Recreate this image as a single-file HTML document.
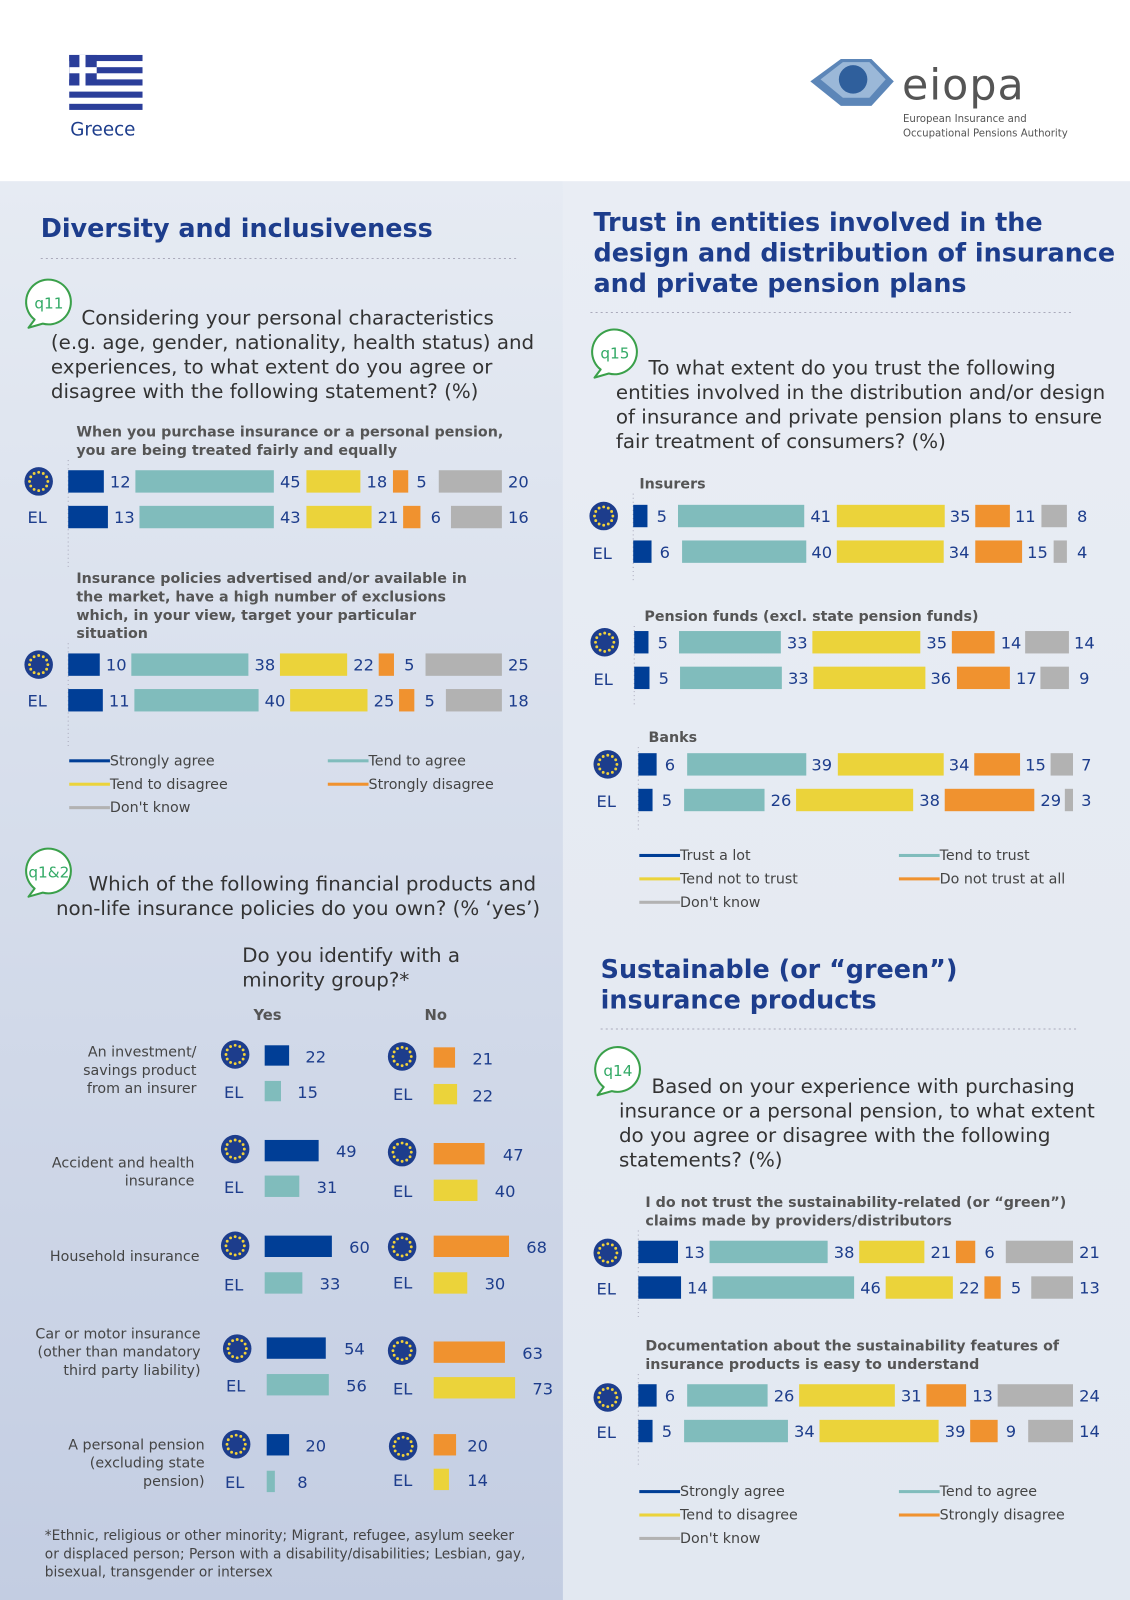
<!DOCTYPE html>
<html><head><meta charset="utf-8"><style>
html,body{margin:0;padding:0;background:#fff;}
svg{display:block;font-family:"DejaVu Sans","Liberation Sans",sans-serif;}
.n{font-size:16px;fill:#1d3d8c;}
.lb{font-size:16px;fill:#1d3d8c;}
.q{font-size:19.5px;fill:#333;}
.h{font-size:25px;font-weight:bold;fill:#1d3d8c;}
.s{font-size:14px;font-weight:bold;fill:#555;}
.lg{font-size:14px;fill:#444;}
.pl{font-size:14px;fill:#444;}
.qt{font-size:15px;fill:#3a6;}
.b1{fill:#003e96}.b2{fill:#80bcbc}.b3{fill:#ebd33a}.b4{fill:#f0922f}.b5{fill:#b2b2b2}
</style></head><body>
<svg width="1130" height="1600" viewBox="0 0 1110 1572" preserveAspectRatio="none" xmlns="http://www.w3.org/2000/svg">
<defs>
<linearGradient id="gl" x1="0" y1="0" x2="0" y2="1"><stop offset="0" stop-color="#e6ebf3"/><stop offset="1" stop-color="#c3cde2"/></linearGradient>
<linearGradient id="gr" x1="0" y1="0" x2="0" y2="1"><stop offset="0" stop-color="#e9edf4"/><stop offset="1" stop-color="#e2e8f1"/></linearGradient>
<g id="eu"><circle r="14" fill="#1d3d8c"/><g fill="#f2d23a">
<circle cx="0" cy="-9" r="1.4"/><circle cx="4.5" cy="-7.8" r="1.4"/><circle cx="7.8" cy="-4.5" r="1.4"/><circle cx="9" cy="0" r="1.4"/><circle cx="7.8" cy="4.5" r="1.4"/><circle cx="4.5" cy="7.8" r="1.4"/><circle cx="0" cy="9" r="1.4"/><circle cx="-4.5" cy="7.8" r="1.4"/><circle cx="-7.8" cy="4.5" r="1.4"/><circle cx="-9" cy="0" r="1.4"/><circle cx="-7.8" cy="-4.5" r="1.4"/><circle cx="-4.5" cy="-7.8" r="1.4"/></g></g>
<g id="qb"><path d="M-14,16 A22,22 0 1,1 -6,20 L-20,24 Z" fill="#fff" stroke="#3aa04a" stroke-width="2" stroke-linejoin="round"/></g>
</defs>
<rect width="1110" height="1572" fill="#fff"/>
<rect x="0" y="178" width="553" height="1394" fill="url(#gl)"/>
<rect x="553" y="178" width="557" height="1394" fill="url(#gr)"/>

<!-- header -->
<g>
<rect x="68" y="52" width="72" height="55" fill="#fff"/>
<g fill="#2b3e9a">
<rect x="68" y="54" width="72" height="6"/><rect x="68" y="66" width="72" height="6"/><rect x="68" y="78" width="72" height="6"/><rect x="68" y="90" width="72" height="6"/><rect x="68" y="102" width="72" height="6"/>
<rect x="68" y="54" width="27" height="30"/></g>
<rect x="68" y="66" width="27" height="6" fill="#fff"/><rect x="78" y="54" width="6" height="30" fill="#fff"/>
<text x="69" y="133" font-size="18" fill="#1d3d8c">Greece</text>
<path d="M796,80 l30,-22 h30 l22,22 l-22,24 h-30 z" fill="#5c86b8"/>
<path d="M806,78 l22,-17 h26 l16,17 l-16,18 h-26 z" fill="#9bb8d8"/>
<circle cx="838" cy="78" r="14" fill="#2f5f9c"/>
<text x="886" y="98" font-size="42" fill="#555" letter-spacing="1">eiopa</text>
<text x="887" y="120" font-size="10" fill="#555">European Insurance and</text>
<text x="887" y="134" font-size="10" fill="#555">Occupational Pensions Authority</text>
</g>

<!-- LEFT -->
<text x="40" y="233" class="h">Diversity and inclusiveness</text>
<line x1="40" y1="254" x2="510" y2="254" stroke="#aab" stroke-dasharray="2,3"/>
<use href="#qb" x="48" y="298"/><text x="48" y="303" class="qt" text-anchor="middle">q11</text>
<text class="q"><tspan x="80" y="319">Considering your personal characteristics</tspan><tspan x="50" y="343">(e.g. age, gender, nationality, health status) and</tspan><tspan x="50" y="367">experiences, to what extent do you agree or</tspan><tspan x="50" y="391">disagree with the following statement? (%)</tspan></text>
<text class="s"><tspan x="75" y="429">When you purchase insurance or a personal pension,</tspan><tspan x="75" y="447">you are being treated fairly and equally</tspan></text>
<line x1="67" y1="452" x2="67" y2="560" stroke="#aab" stroke-dasharray="1,3"/>
<use href="#eu" x="38" y="473"/><text x="27" y="514" class="lb">EL</text>
<rect class="b1" x="67" y="462" width="35" height="22"/><text class="n" x="108" y="479">12</text>
<rect class="b2" x="133" y="462" width="136" height="22"/><text class="n" x="275" y="479">45</text>
<rect class="b3" x="301" y="462" width="53" height="22"/><text class="n" x="360" y="479">18</text>
<rect class="b4" x="386" y="462" width="15" height="22"/><text class="n" x="409" y="479">5</text>
<rect class="b5" x="431" y="462" width="62" height="22"/><text class="n" x="499" y="479">20</text>
<rect class="b1" x="67" y="497" width="39" height="22"/><text class="n" x="112" y="514">13</text>
<rect class="b2" x="137" y="497" width="132" height="22"/><text class="n" x="275" y="514">43</text>
<rect class="b3" x="301" y="497" width="64" height="22"/><text class="n" x="371" y="514">21</text>
<rect class="b4" x="396" y="497" width="17" height="22"/><text class="n" x="423" y="514">6</text>
<rect class="b5" x="443" y="497" width="50" height="22"/><text class="n" x="499" y="514">16</text>

<text class="s"><tspan x="75" y="573">Insurance policies advertised and/or available in</tspan><tspan x="75" y="591">the market, have a high number of exclusions</tspan><tspan x="75" y="609">which, in your view, target your particular</tspan><tspan x="75" y="627">situation</tspan></text>
<line x1="67" y1="632" x2="67" y2="735" stroke="#aab" stroke-dasharray="1,3"/>
<use href="#eu" x="38" y="653"/><text x="27" y="694" class="lb">EL</text>
<rect class="b1" x="67" y="642" width="31" height="22"/><text class="n" x="104" y="659">10</text>
<rect class="b2" x="129" y="642" width="115" height="22"/><text class="n" x="250" y="659">38</text>
<rect class="b3" x="275" y="642" width="66" height="22"/><text class="n" x="347" y="659">22</text>
<rect class="b4" x="372" y="642" width="15" height="22"/><text class="n" x="397" y="659">5</text>
<rect class="b5" x="418" y="642" width="75" height="22"/><text class="n" x="499" y="659">25</text>
<rect class="b1" x="67" y="677" width="34" height="22"/><text class="n" x="107" y="694">11</text>
<rect class="b2" x="132" y="677" width="122" height="22"/><text class="n" x="260" y="694">40</text>
<rect class="b3" x="285" y="677" width="76" height="22"/><text class="n" x="367" y="694">25</text>
<rect class="b4" x="392" y="677" width="15" height="22"/><text class="n" x="417" y="694">5</text>
<rect class="b5" x="438" y="677" width="55" height="22"/><text class="n" x="499" y="694">18</text>

<g class="lg">
<rect x="68" y="746" width="40" height="3" fill="#003e96"/><text x="108" y="752">Strongly agree</text>
<rect x="322" y="746" width="40" height="3" fill="#80bcbc"/><text x="362" y="752">Tend to agree</text>
<rect x="68" y="769" width="40" height="3" fill="#ebd33a"/><text x="108" y="775">Tend to disagree</text>
<rect x="322" y="769" width="40" height="3" fill="#f0922f"/><text x="362" y="775">Strongly disagree</text>
<rect x="68" y="792" width="40" height="3" fill="#b2b2b2"/><text x="108" y="798">Don't know</text>
</g>

<use href="#qb" x="48" y="857"/><text x="48" y="862" class="qt" text-anchor="middle">q1&amp;2</text>
<text class="q"><tspan x="87" y="875">Which of the following financial products and</tspan><tspan x="55" y="899">non-life insurance policies do you own? (% ‘yes’)</tspan></text>
<text class="q"><tspan x="238" y="945">Do you identify with a</tspan><tspan x="238" y="969">minority group?*</tspan></text>
<text x="249" y="1002" font-size="14.5" font-weight="bold" fill="#555">Yes</text>
<text x="417" y="1002" font-size="14.5" font-weight="bold" fill="#555">No</text>

<g class="pl" text-anchor="end">
<text x="193" y="1038">An investment/</text><text x="193" y="1056">savings product</text><text x="193" y="1074">from an insurer</text>
<text x="191" y="1147">Accident and health</text><text x="191" y="1165">insurance</text>
<text x="196" y="1239">Household insurance</text>
<text x="197" y="1315">Car or motor insurance</text><text x="197" y="1333">(other than mandatory</text><text x="197" y="1351">third party liability)</text>
<text x="201" y="1424">A personal pension</text><text x="201" y="1442">(excluding state</text><text x="201" y="1460">pension)</text>
</g>
<g>
<use href="#eu" x="231" y="1036"/><use href="#eu" x="395" y="1038"/>
<text class="lb" x="220" y="1079">EL</text><text class="lb" x="386" y="1081">EL</text>
<rect class="b1" x="260" y="1027" width="24" height="20"/><text class="n" x="300" y="1044">22</text>
<rect class="b2" x="260" y="1062" width="16" height="20"/><text class="n" x="292" y="1079">15</text>
<rect class="b4" x="426" y="1029" width="21" height="20"/><text class="n" x="464" y="1046">21</text>
<rect class="b3" x="426" y="1065" width="23" height="20"/><text class="n" x="464" y="1082">22</text>

<use href="#eu" x="231" y="1129"/><use href="#eu" x="395" y="1132"/>
<text class="lb" x="220" y="1172">EL</text><text class="lb" x="386" y="1176">EL</text>
<rect class="b1" x="260" y="1120" width="53" height="21"/><text class="n" x="330" y="1137">49</text>
<rect class="b2" x="260" y="1155" width="34" height="21"/><text class="n" x="311" y="1172">31</text>
<rect class="b4" x="426" y="1123" width="50" height="21"/><text class="n" x="494" y="1140">47</text>
<rect class="b3" x="426" y="1159" width="43" height="21"/><text class="n" x="486" y="1176">40</text>

<use href="#eu" x="231" y="1224"/><use href="#eu" x="395" y="1225"/>
<text class="lb" x="220" y="1268">EL</text><text class="lb" x="386" y="1266">EL</text>
<rect class="b1" x="260" y="1214" width="66" height="21"/><text class="n" x="343" y="1231">60</text>
<rect class="b2" x="260" y="1250" width="37" height="21"/><text class="n" x="314" y="1267">33</text>
<rect class="b4" x="426" y="1214" width="74" height="21"/><text class="n" x="517" y="1231">68</text>
<rect class="b3" x="426" y="1250" width="33" height="21"/><text class="n" x="476" y="1267">30</text>

<use href="#eu" x="233" y="1325"/><use href="#eu" x="395" y="1327"/>
<text class="lb" x="222" y="1367">EL</text><text class="lb" x="386" y="1370">EL</text>
<rect class="b1" x="262" y="1314" width="58" height="21"/><text class="n" x="338" y="1331">54</text>
<rect class="b2" x="262" y="1350" width="61" height="21"/><text class="n" x="340" y="1367">56</text>
<rect class="b4" x="426" y="1318" width="70" height="21"/><text class="n" x="513" y="1335">63</text>
<rect class="b3" x="426" y="1353" width="80" height="21"/><text class="n" x="523" y="1370">73</text>

<use href="#eu" x="232" y="1419"/><use href="#eu" x="396" y="1421"/>
<text class="lb" x="221" y="1462">EL</text><text class="lb" x="386" y="1460">EL</text>
<rect class="b1" x="262" y="1409" width="22" height="21"/><text class="n" x="300" y="1426">20</text>
<rect class="b2" x="262" y="1445" width="8" height="21"/><text class="n" x="292" y="1462">8</text>
<rect class="b4" x="426" y="1409" width="22" height="21"/><text class="n" x="459" y="1426">20</text>
<rect class="b3" x="426" y="1443" width="15" height="21"/><text class="n" x="459" y="1460">14</text>
</g>
<text font-size="13.5" fill="#444"><tspan x="44" y="1513">*Ethnic, religious or other minority; Migrant, refugee, asylum seeker</tspan><tspan x="44" y="1531">or displaced person; Person with a disability/disabilities; Lesbian, gay,</tspan><tspan x="44" y="1549">bisexual, transgender or intersex</tspan></text>

<!-- RIGHT -->
<text class="h"><tspan x="583" y="227">Trust in entities involved in the</tspan><tspan x="583" y="257">design and distribution of insurance</tspan><tspan x="583" y="287">and private pension plans</tspan></text>
<line x1="580" y1="307" x2="1055" y2="307" stroke="#aab" stroke-dasharray="2,3"/>
<use href="#qb" x="604" y="347"/><text x="604" y="352" class="qt" text-anchor="middle">q15</text>
<text class="q"><tspan x="637" y="368">To what extent do you trust the following</tspan><tspan x="605" y="392">entities involved in the distribution and/or design</tspan><tspan x="605" y="416">of insurance and private pension plans to ensure</tspan><tspan x="605" y="440">fair treatment of consumers? (%)</tspan></text>

<text class="s" x="628" y="480">Insurers</text>
<line x1="622" y1="485" x2="622" y2="570" stroke="#aab" stroke-dasharray="1,3"/>
<use href="#eu" x="593" y="507"/><text class="lb" x="582" y="549">EL</text>
<rect class="b1" x="622" y="496" width="14" height="22"/><text class="n" x="645" y="513">5</text>
<rect class="b2" x="666" y="496" width="124" height="22"/><text class="n" x="796" y="513">41</text>
<rect class="b3" x="822" y="496" width="106" height="22"/><text class="n" x="933" y="513">35</text>
<rect class="b4" x="958" y="496" width="34" height="22"/><text class="n" x="997" y="513">11</text>
<rect class="b5" x="1023" y="496" width="25" height="22"/><text class="n" x="1058" y="513">8</text>
<rect class="b1" x="622" y="531" width="18" height="22"/><text class="n" x="648" y="548">6</text>
<rect class="b2" x="670" y="531" width="122" height="22"/><text class="n" x="797" y="548">40</text>
<rect class="b3" x="822" y="531" width="105" height="22"/><text class="n" x="932" y="548">34</text>
<rect class="b4" x="958" y="531" width="46" height="22"/><text class="n" x="1009" y="548">15</text>
<rect class="b5" x="1035" y="531" width="13" height="22"/><text class="n" x="1058" y="548">4</text>

<text class="s" x="633" y="610">Pension funds (excl. state pension funds)</text>
<line x1="623" y1="615" x2="623" y2="695" stroke="#aab" stroke-dasharray="1,3"/>
<use href="#eu" x="594" y="631"/><text class="lb" x="583" y="673">EL</text>
<rect class="b1" x="623" y="620" width="14" height="22"/><text class="n" x="646" y="637">5</text>
<rect class="b2" x="667" y="620" width="100" height="22"/><text class="n" x="773" y="637">33</text>
<rect class="b3" x="798" y="620" width="106" height="22"/><text class="n" x="910" y="637">35</text>
<rect class="b4" x="935" y="620" width="42" height="22"/><text class="n" x="983" y="637">14</text>
<rect class="b5" x="1007" y="620" width="43" height="22"/><text class="n" x="1055" y="637">14</text>
<rect class="b1" x="623" y="655" width="15" height="22"/><text class="n" x="647" y="672">5</text>
<rect class="b2" x="668" y="655" width="100" height="22"/><text class="n" x="774" y="672">33</text>
<rect class="b3" x="799" y="655" width="110" height="22"/><text class="n" x="914" y="672">36</text>
<rect class="b4" x="940" y="655" width="52" height="22"/><text class="n" x="998" y="672">17</text>
<rect class="b5" x="1022" y="655" width="28" height="22"/><text class="n" x="1060" y="672">9</text>

<text class="s" x="637" y="729">Banks</text>
<line x1="627" y1="734" x2="627" y2="815" stroke="#aab" stroke-dasharray="1,3"/>
<use href="#eu" x="597" y="751"/><text class="lb" x="586" y="793">EL</text>
<rect class="b1" x="627" y="740" width="18" height="22"/><text class="n" x="653" y="757">6</text>
<rect class="b2" x="675" y="740" width="117" height="22"/><text class="n" x="797" y="757">39</text>
<rect class="b3" x="823" y="740" width="104" height="22"/><text class="n" x="932" y="757">34</text>
<rect class="b4" x="957" y="740" width="45" height="22"/><text class="n" x="1007" y="757">15</text>
<rect class="b5" x="1032" y="740" width="22" height="22"/><text class="n" x="1062" y="757">7</text>
<rect class="b1" x="627" y="775" width="14" height="22"/><text class="n" x="650" y="792">5</text>
<rect class="b2" x="672" y="775" width="79" height="22"/><text class="n" x="757" y="792">26</text>
<rect class="b3" x="782" y="775" width="115" height="22"/><text class="n" x="903" y="792">38</text>
<rect class="b4" x="928" y="775" width="88" height="22"/><text class="n" x="1022" y="792">29</text>
<rect class="b5" x="1046" y="775" width="8" height="22"/><text class="n" x="1062" y="792">3</text>

<g class="lg">
<rect x="628" y="839" width="40" height="3" fill="#003e96"/><text x="668" y="845">Trust a lot</text>
<rect x="883" y="839" width="40" height="3" fill="#80bcbc"/><text x="923" y="845">Tend to trust</text>
<rect x="628" y="862" width="40" height="3" fill="#ebd33a"/><text x="668" y="868">Tend not to trust</text>
<rect x="883" y="862" width="40" height="3" fill="#f0922f"/><text x="923" y="868">Do not trust at all</text>
<rect x="628" y="885" width="40" height="3" fill="#b2b2b2"/><text x="668" y="891">Don't know</text>
</g>

<text class="h"><tspan x="590" y="961">Sustainable (or “green”)</tspan><tspan x="590" y="991">insurance products</tspan></text>
<line x1="590" y1="1011" x2="1060" y2="1011" stroke="#aab" stroke-dasharray="2,3"/>
<use href="#qb" x="607" y="1052"/><text x="607" y="1057" class="qt" text-anchor="middle">q14</text>
<text class="q"><tspan x="640" y="1074">Based on your experience with purchasing</tspan><tspan x="608" y="1098">insurance or a personal pension, to what extent</tspan><tspan x="608" y="1122">do you agree or disagree with the following</tspan><tspan x="608" y="1146">statements? (%)</tspan></text>
<text class="s"><tspan x="634" y="1186">I do not trust the sustainability-related (or “green”)</tspan><tspan x="634" y="1204">claims made by providers/distributors</tspan></text>
<line x1="627" y1="1209" x2="627" y2="1295" stroke="#aab" stroke-dasharray="1,3"/>
<use href="#eu" x="597" y="1231"/><text class="lb" x="586" y="1272">EL</text>
<rect class="b1" x="627" y="1219" width="39" height="22"/><text class="n" x="672" y="1236">13</text>
<rect class="b2" x="697" y="1219" width="116" height="22"/><text class="n" x="819" y="1236">38</text>
<rect class="b3" x="844" y="1219" width="64" height="22"/><text class="n" x="914" y="1236">21</text>
<rect class="b4" x="939" y="1219" width="19" height="22"/><text class="n" x="967" y="1236">6</text>
<rect class="b5" x="988" y="1219" width="66" height="22"/><text class="n" x="1060" y="1236">21</text>
<rect class="b1" x="627" y="1254" width="42" height="22"/><text class="n" x="675" y="1271">14</text>
<rect class="b2" x="700" y="1254" width="139" height="22"/><text class="n" x="845" y="1271">46</text>
<rect class="b3" x="870" y="1254" width="66" height="22"/><text class="n" x="942" y="1271">22</text>
<rect class="b4" x="967" y="1254" width="16" height="22"/><text class="n" x="993" y="1271">5</text>
<rect class="b5" x="1013" y="1254" width="41" height="22"/><text class="n" x="1060" y="1271">13</text>

<text class="s"><tspan x="634" y="1327">Documentation about the sustainability features of</tspan><tspan x="634" y="1345">insurance products is easy to understand</tspan></text>
<line x1="627" y1="1350" x2="627" y2="1440" stroke="#aab" stroke-dasharray="1,3"/>
<use href="#eu" x="597" y="1373"/><text class="lb" x="586" y="1413">EL</text>
<rect class="b1" x="627" y="1360" width="18" height="22"/><text class="n" x="653" y="1377">6</text>
<rect class="b2" x="675" y="1360" width="79" height="22"/><text class="n" x="760" y="1377">26</text>
<rect class="b3" x="785" y="1360" width="94" height="22"/><text class="n" x="885" y="1377">31</text>
<rect class="b4" x="910" y="1360" width="39" height="22"/><text class="n" x="955" y="1377">13</text>
<rect class="b5" x="980" y="1360" width="74" height="22"/><text class="n" x="1060" y="1377">24</text>
<rect class="b1" x="627" y="1395" width="14" height="22"/><text class="n" x="650" y="1412">5</text>
<rect class="b2" x="672" y="1395" width="102" height="22"/><text class="n" x="780" y="1412">34</text>
<rect class="b3" x="805" y="1395" width="117" height="22"/><text class="n" x="928" y="1412">39</text>
<rect class="b4" x="953" y="1395" width="27" height="22"/><text class="n" x="988" y="1412">9</text>
<rect class="b5" x="1010" y="1395" width="44" height="22"/><text class="n" x="1060" y="1412">14</text>

<g class="lg">
<rect x="628" y="1464" width="40" height="3" fill="#003e96"/><text x="668" y="1470">Strongly agree</text>
<rect x="883" y="1464" width="40" height="3" fill="#80bcbc"/><text x="923" y="1470">Tend to agree</text>
<rect x="628" y="1487" width="40" height="3" fill="#ebd33a"/><text x="668" y="1493">Tend to disagree</text>
<rect x="883" y="1487" width="40" height="3" fill="#f0922f"/><text x="923" y="1493">Strongly disagree</text>
<rect x="628" y="1510" width="40" height="3" fill="#b2b2b2"/><text x="668" y="1516">Don't know</text>
</g>
</svg>
</body></html>
